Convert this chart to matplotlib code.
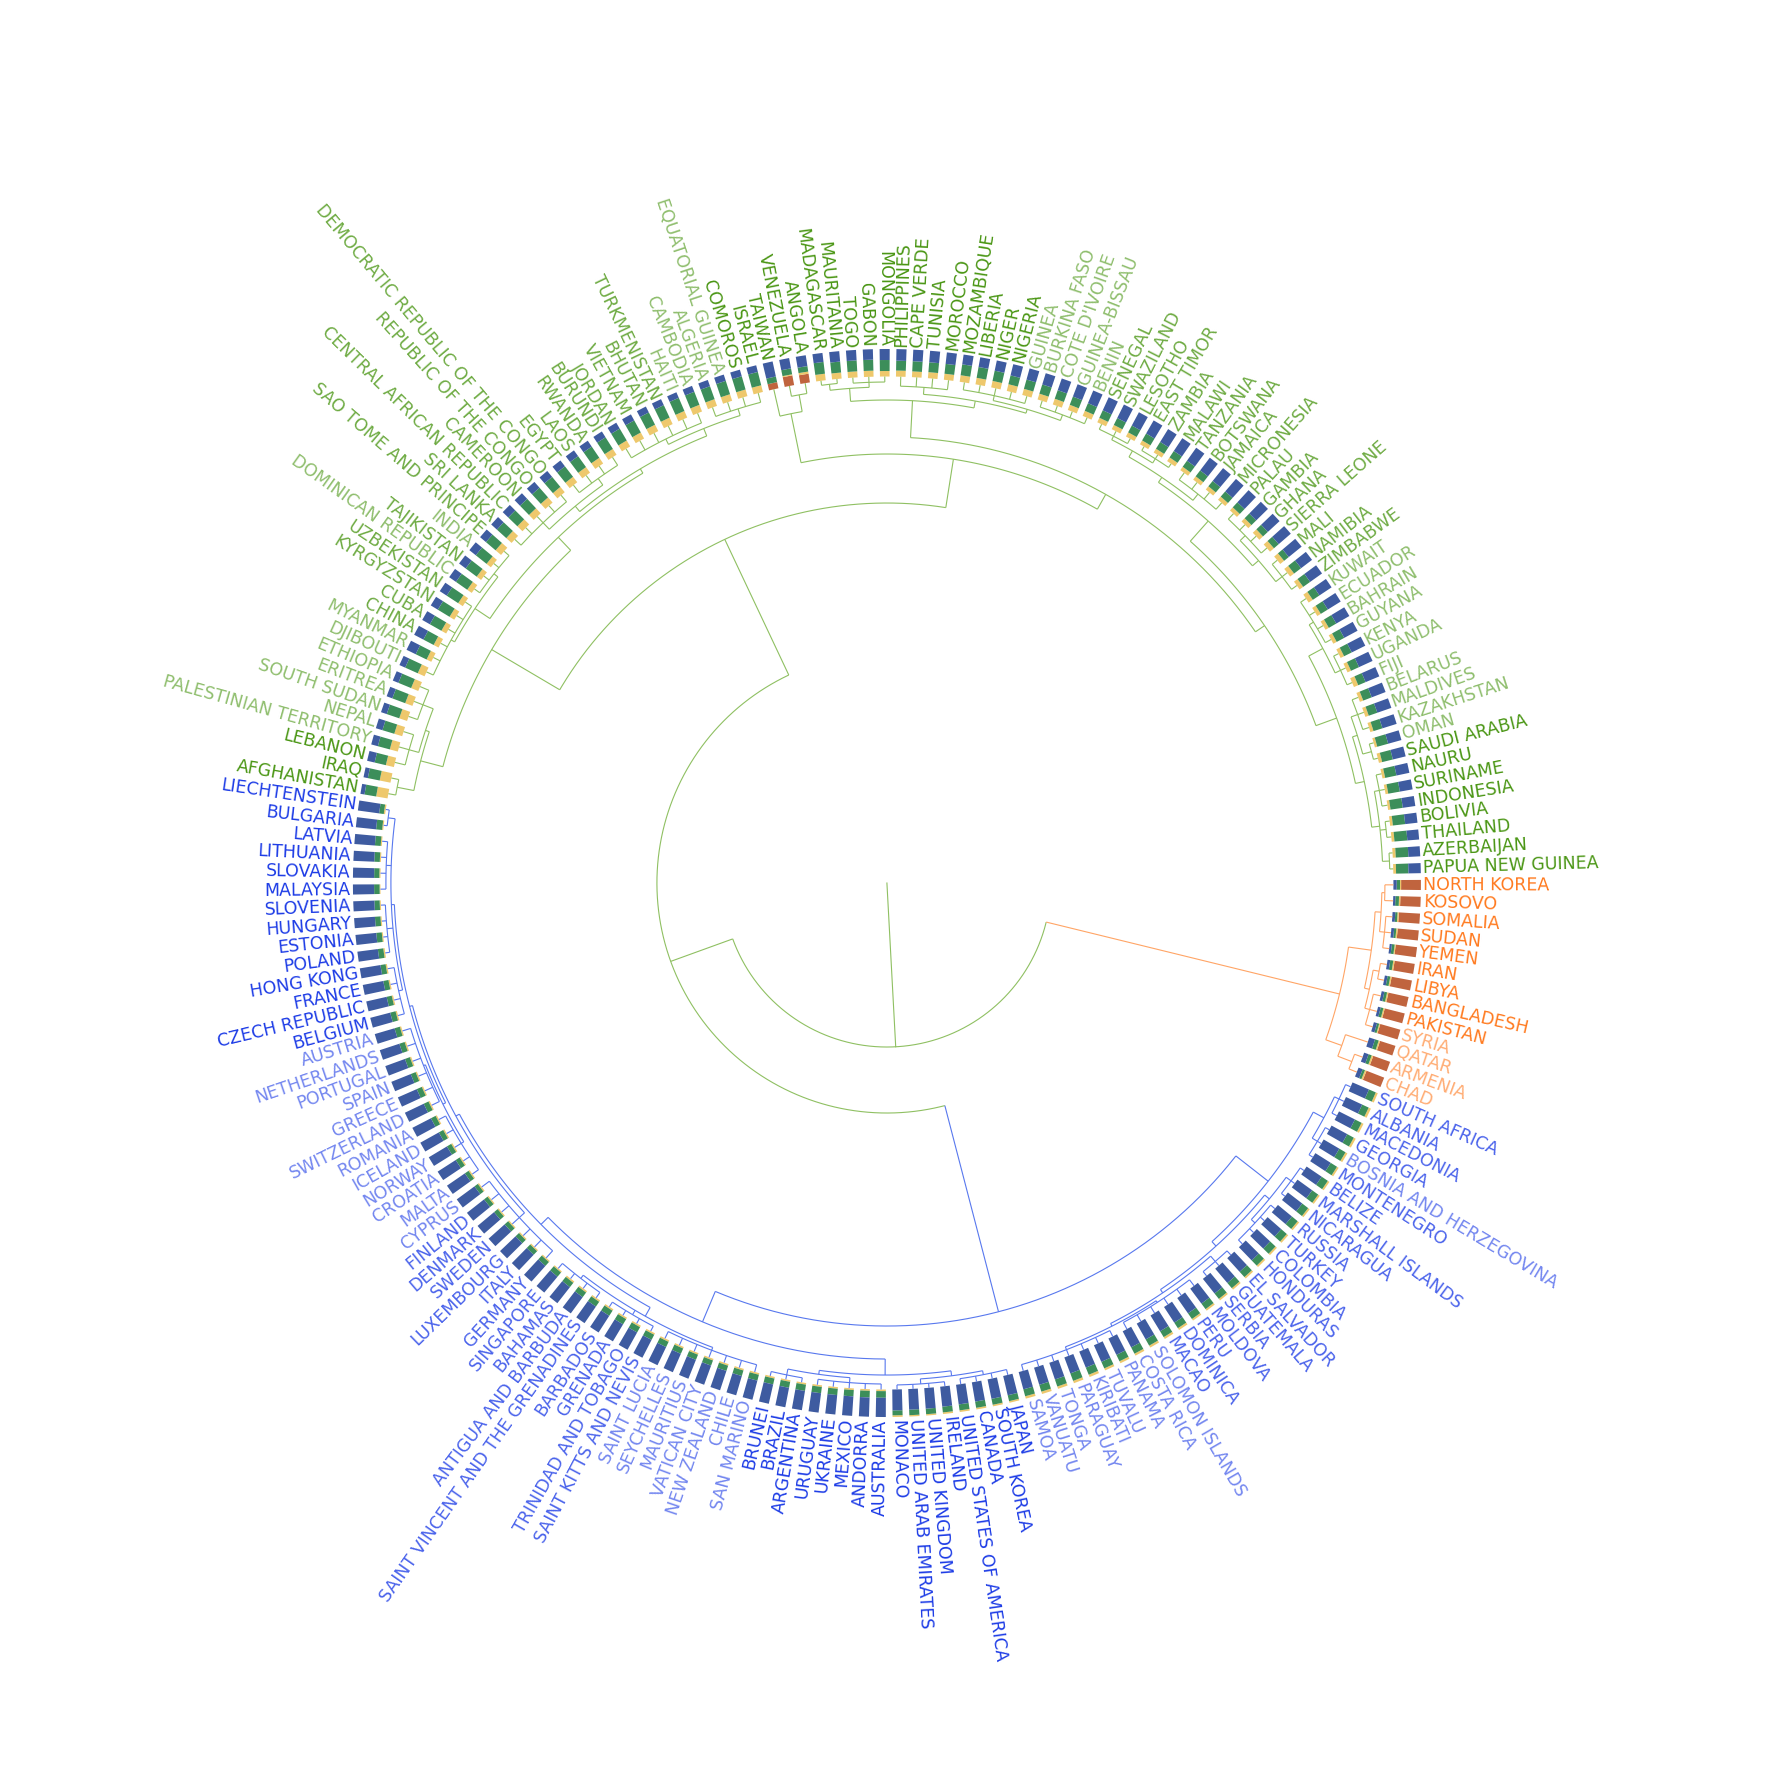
import numpy as np
import matplotlib
matplotlib.use("Agg")
import matplotlib.pyplot as plt

# ---- leaves, in circular order (counter-clockwise from 3 o'clock) ----
green_names = [
    "PAPUA NEW GUINEA", "AZERBAIJAN", "THAILAND", "BOLIVIA", "INDONESIA", "SURINAME", "NAURU", "SAUDI ARABIA", "OMAN", "KAZAKHSTAN",
    "MALDIVES", "BELARUS", "FIJI", "UGANDA", "KENYA", "GUYANA", "BAHRAIN", "ECUADOR", "KUWAIT", "ZIMBABWE",
    "NAMIBIA", "MALI", "SIERRA LEONE", "GHANA", "GAMBIA", "PALAU", "MICRONESIA", "JAMAICA", "BOTSWANA", "TANZANIA",
    "MALAWI", "ZAMBIA", "EAST TIMOR", "LESOTHO", "SWAZILAND", "SENEGAL", "BENIN", "GUINEA-BISSAU", "COTE D'IVOIRE", "BURKINA FASO",
    "GUINEA", "NIGERIA", "NIGER", "LIBERIA", "MOZAMBIQUE", "MOROCCO", "TUNISIA", "CAPE VERDE", "PHILIPPINES", "MONGOLIA",
    "GABON", "TOGO", "MAURITANIA", "MADAGASCAR", "ANGOLA", "VENEZUELA", "TAIWAN", "ISRAEL", "COMOROS", "EQUATORIAL GUINEA",
    "ALGERIA", "CAMBODIA", "HAITI", "TURKMENISTAN", "BHUTAN", "VIETNAM", "JORDAN", "BURUNDI", "RWANDA", "LAOS",
    "EGYPT", "DEMOCRATIC REPUBLIC OF THE CONGO", "REPUBLIC OF THE CONGO", "CAMEROON", "CENTRAL AFRICAN REPUBLIC", "SRI LANKA", "SAO TOME AND PRINCIPE", "INDIA", "TAJIKISTAN", "DOMINICAN REPUBLIC",
    "UZBEKISTAN", "KYRGYZSTAN", "CUBA", "CHINA", "MYANMAR", "DJIBOUTI", "ETHIOPIA", "ERITREA", "SOUTH SUDAN", "NEPAL",
    "PALESTINIAN TERRITORY", "LEBANON", "IRAQ", "AFGHANISTAN"]
blue_names = [
    "LIECHTENSTEIN", "BULGARIA", "LATVIA", "LITHUANIA", "SLOVAKIA", "MALAYSIA", "SLOVENIA", "HUNGARY", "ESTONIA", "POLAND",
    "HONG KONG", "FRANCE", "CZECH REPUBLIC", "BELGIUM", "AUSTRIA", "NETHERLANDS", "PORTUGAL", "SPAIN", "GREECE", "SWITZERLAND",
    "ROMANIA", "ICELAND", "NORWAY", "CROATIA", "MALTA", "CYPRUS", "FINLAND", "DENMARK", "SWEDEN", "LUXEMBOURG",
    "ITALY", "GERMANY", "SINGAPORE", "BAHAMAS", "ANTIGUA AND BARBUDA", "SAINT VINCENT AND THE GRENADINES", "BARBADOS", "GRENADA", "TRINIDAD AND TOBAGO", "SAINT KITTS AND NEVIS",
    "SAINT LUCIA", "SEYCHELLES", "MAURITIUS", "VATICAN CITY", "NEW ZEALAND", "CHILE", "SAN MARINO", "BRUNEI", "BRAZIL", "ARGENTINA",
    "URUGUAY", "UKRAINE", "MEXICO", "ANDORRA", "AUSTRALIA", "MONACO", "UNITED ARAB EMIRATES", "UNITED KINGDOM", "IRELAND", "UNITED STATES OF AMERICA",
    "CANADA", "SOUTH KOREA", "JAPAN", "SAMOA", "VANUATU", "TONGA", "PARAGUAY", "KIRIBATI", "TUVALU", "PANAMA",
    "COSTA RICA", "SOLOMON ISLANDS", "MACAO", "DOMINICA", "PERU", "MOLDOVA", "SERBIA", "GUATEMALA", "EL SALVADOR", "HONDURAS",
    "COLOMBIA", "TURKEY", "RUSSIA", "NICARAGUA", "MARSHALL ISLANDS", "BELIZE", "MONTENEGRO", "BOSNIA AND HERZEGOVINA", "GEORGIA", "MACEDONIA",
    "ALBANIA", "SOUTH AFRICA"]
orange_names = ["CHAD", "ARMENIA", "QATAR", "SYRIA", "PAKISTAN", "BANGLADESH", "LIBYA", "IRAN", "YEMEN", "SUDAN",
                "SOMALIA", "KOSOVO", "NORTH KOREA"]

# ---- stacked shares (%) : blue / green / yellow / brown ----
green_blue = [45, 43, 43, 45, 46, 47, 48, 48, 50, 54,
              54, 54, 54, 54, 55, 55, 55, 55, 53, 53,
              50, 60, 58, 58, 60, 60, 60, 60, 58, 58,
              56, 55, 55, 55, 55, 52, 50, 48, 45, 43,
              42, 42, 38, 36, 36, 42, 42, 42, 42, 40,
              38, 38, 38, 33, 40, 38, 56, 25, 25, 24,
              24, 23, 22, 24, 24, 25, 25, 25, 26, 26,
              27, 28, 28, 28, 28, 28, 28, 30, 30, 30,
              30, 30, 32, 38, 37, 23, 22, 22, 22, 25,
              25, 28, 16, 15]
green_green = [45, 46, 47, 45, 45, 43, 42, 40, 41, 34,
               33, 33, 29, 32, 31, 31, 31, 30, 29, 31,
               32, 22, 23, 24, 24, 25, 25, 25, 27, 27,
               28, 29, 29, 28, 28, 30, 30, 32, 33, 35,
               35, 33, 38, 40, 40, 36, 36, 37, 36, 40,
               40, 40, 40, 43, 20, 22, 21, 50, 50, 51,
               50, 51, 52, 50, 50, 50, 50, 50, 49, 49,
               48, 47, 47, 47, 46, 46, 46, 50, 50, 50,
               50, 50, 48, 42, 44, 50, 50, 50, 48, 45,
               45, 42, 44, 43]
green_yellow = [10, 11, 10, 10, 9, 10, 10, 12, 9, 12,
                13, 13, 17, 14, 14, 14, 14, 15, 18, 16,
                18, 18, 19, 18, 16, 15, 15, 15, 15, 15,
                16, 16, 16, 17, 17, 18, 20, 20, 22, 22,
                23, 25, 24, 24, 24, 22, 22, 21, 22, 20,
                22, 22, 22, 24, 8, 4, 0, 25, 25, 25,
                26, 26, 26, 26, 26, 25, 25, 25, 25, 25,
                25, 25, 25, 25, 26, 26, 26, 20, 20, 20,
                20, 20, 20, 20, 19, 27, 28, 28, 30, 30,
                30, 30, 40, 42]
green_brown = [0, 0, 0, 0, 0, 0, 0, 0, 0, 0,
               0, 0, 0, 0, 0, 0, 0, 0, 0, 0,
               0, 0, 0, 0, 0, 0, 0, 0, 0, 0,
               0, 0, 0, 0, 0, 0, 0, 0, 0, 0,
               0, 0, 0, 0, 0, 0, 0, 0, 0, 0,
               0, 0, 0, 0, 32, 36, 23, 0, 0, 0,
               0, 0, 0, 0, 0, 0, 0, 0, 0, 0,
               0, 0, 0, 0, 0, 0, 0, 0, 0, 0,
               0, 0, 0, 0, 0, 0, 0, 0, 0, 0,
               0, 0, 0, 0]
blue_blue = [78, 74, 75, 76, 77, 77, 77, 76, 76, 75,
             76, 76, 76, 75, 75, 75, 76, 76, 75, 76,
             76, 77, 77, 78, 79, 80, 79, 78, 78, 78,
             77, 76, 75, 74, 73, 73, 72, 72, 72, 73,
             73, 73, 74, 74, 74, 73, 72, 72, 72, 71,
             71, 71, 71, 70, 70, 76, 75, 75, 73, 72,
             71, 72, 72, 65, 65, 64, 62, 63, 66, 66,
             66, 66, 67, 68, 68, 68, 68, 68, 67, 67,
             66, 66, 66, 66, 66, 66, 66, 66, 65, 65,
             65, 65]
blue_green = [17, 22, 21, 20, 19, 20, 19, 20, 20, 20,
              19, 19, 19, 20, 20, 20, 19, 19, 20, 19,
              19, 18, 18, 17, 16, 15, 16, 17, 17, 17,
              18, 19, 20, 20, 21, 21, 22, 22, 22, 21,
              21, 21, 20, 20, 20, 21, 22, 22, 22, 23,
              23, 23, 23, 24, 24, 18, 20, 20, 21, 22,
              23, 22, 22, 26, 26, 27, 29, 28, 26, 26,
              26, 26, 25, 24, 25, 25, 25, 25, 26, 26,
              27, 27, 27, 27, 27, 27, 27, 26, 27, 27,
              26, 27]
blue_yellow = [5, 4, 4, 4, 4, 3, 4, 4, 4, 5,
               5, 5, 5, 5, 5, 5, 5, 5, 5, 5,
               5, 5, 5, 5, 5, 5, 5, 5, 5, 5,
               5, 5, 5, 6, 6, 6, 6, 6, 6, 6,
               6, 6, 6, 6, 6, 6, 6, 6, 6, 6,
               6, 6, 6, 6, 6, 6, 5, 5, 6, 6,
               6, 6, 6, 9, 9, 9, 9, 9, 8, 8,
               8, 8, 8, 8, 7, 7, 7, 7, 7, 7,
               7, 7, 7, 7, 7, 7, 7, 8, 8, 8,
               9, 8]
blue_brown = [0] * len(blue_names)
orange_blue = [16, 17, 22, 12, 10, 10, 10, 10, 8, 10, 10, 8, 12]
orange_green = [9, 12, 14, 8, 10, 10, 10, 11, 10, 8, 8, 13, 12]
orange_yellow = [6, 6, 5, 4, 5, 5, 5, 5, 4, 5, 5, 5, 4]
orange_brown = [69, 65, 59, 76, 75, 75, 75, 74, 78, 77, 77, 74, 72]

# ---- label emphasis: 2 strong, 1 medium, 0 faint ----
green_tone = [2, 2, 2, 2, 2, 2, 2, 2, 0, 0,
              0, 0, 0, 0, 0, 0, 0, 0, 0, 1,
              1, 1, 1, 1, 1, 1, 1, 1, 1, 1,
              1, 1, 1, 1, 1, 1, 0, 0, 0, 0,
              0, 2, 2, 2, 2, 2, 2, 2, 2, 2,
              2, 2, 2, 2, 2, 2, 2, 2, 2, 0,
              0, 0, 0, 1, 1, 1, 1, 1, 1, 1,
              1, 1, 1, 1, 1, 1, 1, 0, 1, 0,
              1, 1, 1, 1, 0, 0, 0, 0, 0, 0,
              0, 2, 2, 2]
blue_tone = [2, 2, 2, 2, 2, 2, 2, 2, 2, 2,
             2, 2, 2, 2, 0, 0, 0, 0, 0, 0,
             0, 0, 0, 0, 0, 0, 1, 1, 1, 1,
             1, 1, 1, 1, 1, 1, 1, 1, 1, 1,
             0, 0, 0, 0, 0, 0, 0, 2, 2, 2,
             2, 2, 2, 2, 2, 2, 2, 2, 2, 2,
             2, 2, 2, 0, 0, 0, 0, 0, 0, 0,
             0, 0, 1, 1, 1, 1, 1, 1, 1, 1,
             1, 1, 1, 1, 1, 1, 1, 0, 1, 1,
             1, 1]
orange_tone = [0, 0, 0, 0, 2, 2, 2, 2, 2, 2, 2, 2, 2]

# ---- dendrogram nodes: (first leaf, last leaf, node radius in px) ----
top_nodes = [("PAPUA NEW GUINEA", "NORTH KOREA", 164),
             ("PAPUA NEW GUINEA", "SOUTH AFRICA", 230)]
green_nodes = [
    ("PAPUA NEW GUINEA", "AFGHANISTAN", 380), ("PAPUA NEW GUINEA", "TAIWAN", 429),
    ("PAPUA NEW GUINEA", "MADAGASCAR", 446), ("PAPUA NEW GUINEA", "SENEGAL", 457),
    ("PAPUA NEW GUINEA", "KUWAIT", 479), ("PAPUA NEW GUINEA", "BELARUS", 488),
    ("PAPUA NEW GUINEA", "NAURU", 496), ("PAPUA NEW GUINEA", "AZERBAIJAN", 503),
    ("THAILAND", "BOLIVIA", 502), ("INDONESIA", "NAURU", 501),
    ("SAUDI ARABIA", "BELARUS", 493), ("SAUDI ARABIA", "OMAN", 502), ("KAZAKHSTAN", "BELARUS", 500),
    ("FIJI", "KUWAIT", 495), ("FIJI", "KENYA", 501), ("GUYANA", "KUWAIT", 500),
    ("ZIMBABWE", "SENEGAL", 484), ("ZIMBABWE", "PALAU", 492), ("ZIMBABWE", "MALI", 500),
    ("SIERRA LEONE", "PALAU", 499), ("MICRONESIA", "SENEGAL", 490), ("MICRONESIA", "TANZANIA", 498),
    ("MALAWI", "SENEGAL", 497), ("MALAWI", "EAST TIMOR", 502), ("LESOTHO", "SENEGAL", 501),
    ("BENIN", "MADAGASCAR", 483), ("BENIN", "PHILIPPINES", 490), ("BENIN", "MOZAMBIQUE", 494),
    ("BENIN", "BURKINA FASO", 500), ("GUINEA", "MOZAMBIQUE", 499), ("MOROCCO", "PHILIPPINES", 497),
    ("MONGOLIA", "MADAGASCAR", 496), ("MONGOLIA", "TOGO", 501), ("MAURITANIA", "MADAGASCAR", 502),
    ("ANGOLA", "TAIWAN", 479), ("ANGOLA", "VENEZUELA", 496),
    ("ISRAEL", "AFGHANISTAN", 459), ("ISRAEL", "DJIBOUTI", 477), ("ISRAEL", "SRI LANKA", 482),
    ("ISRAEL", "JORDAN", 490), ("ISRAEL", "ALGERIA", 497), ("CAMBODIA", "JORDAN", 496),
    ("BURUNDI", "SRI LANKA", 489), ("BURUNDI", "EGYPT", 497),
    ("DEMOCRATIC REPUBLIC OF THE CONGO", "SRI LANKA", 498),
    ("SAO TOME AND PRINCIPE", "DJIBOUTI", 495), ("SAO TOME AND PRINCIPE", "DOMINICAN REPUBLIC", 500),
    ("UZBEKISTAN", "DJIBOUTI", 499),
    ("ETHIOPIA", "AFGHANISTAN", 482), ("ETHIOPIA", "LEBANON", 486), ("ETHIOPIA", "SOUTH SUDAN", 497),
    ("NEPAL", "LEBANON", 496), ("IRAQ", "AFGHANISTAN", 499)]
blue_nodes = [
    ("LIECHTENSTEIN", "SOUTH AFRICA", 443), ("LIECHTENSTEIN", "JAPAN", 476),
    ("LIECHTENSTEIN", "SAN MARINO", 486), ("LIECHTENSTEIN", "GERMANY", 490),
    ("LIECHTENSTEIN", "MALTA", 493),
    ("LIECHTENSTEIN", "BELGIUM", 496), ("LIECHTENSTEIN", "BULGARIA", 503), ("LATVIA", "MALAYSIA", 501),
    ("SLOVENIA", "POLAND", 502), ("HONG KONG", "BELGIUM", 500),
    ("AUSTRIA", "MALTA", 496), ("AUSTRIA", "SWITZERLAND", 498), ("ROMANIA", "MALTA", 499),
    ("CYPRUS", "GERMANY", 497),
    ("SINGAPORE", "SAN MARINO", 496), ("SINGAPORE", "SAINT VINCENT AND THE GRENADINES", 500),
    ("BARBADOS", "SAINT KITTS AND NEVIS", 501), ("SAINT LUCIA", "SAN MARINO", 499),
    ("BRUNEI", "JAPAN", 492), ("BRUNEI", "AUSTRALIA", 496), ("BRUNEI", "ARGENTINA", 502),
    ("URUGUAY", "AUSTRALIA", 501), ("MONACO", "JAPAN", 497), ("MONACO", "IRELAND", 502),
    ("UNITED STATES OF AMERICA", "JAPAN", 501),
    ("SAMOA", "SOUTH AFRICA", 484), ("SAMOA", "BELIZE", 490), ("SAMOA", "EL SALVADOR", 494),
    ("SAMOA", "MOLDOVA", 497), ("SAMOA", "PANAMA", 500), ("COSTA RICA", "MOLDOVA", 499),
    ("SERBIA", "EL SALVADOR", 501), ("HONDURAS", "BELIZE", 496),
    ("HONDURAS", "RUSSIA", 501), ("NICARAGUA", "BELIZE", 502),
    ("MONTENEGRO", "SOUTH AFRICA", 496), ("MONTENEGRO", "GEORGIA", 502), ("MACEDONIA", "SOUTH AFRICA", 501)]
orange_nodes = [
    ("CHAD", "NORTH KOREA", 466), ("CHAD", "QATAR", 483), ("CHAD", "ARMENIA", 498),
    ("SYRIA", "NORTH KOREA", 489), ("SYRIA", "IRAN", 494), ("SYRIA", "BANGLADESH", 499),
    ("LIBYA", "IRAN", 500), ("YEMEN", "NORTH KOREA", 495), ("YEMEN", "SOMALIA", 500),
    ("KOSOVO", "NORTH KOREA", 498)]

# ---- styling ----
bar_colors = {"blue": "#3e5ba0", "green": "#3c8e5a", "yellow": "#eec86c", "brown": "#c0643e"}
line_colors = {"green": "#8fc062", "blue": "#5878ee", "orange": "#ffa566"}
text_colors = {"green": "#4a9614", "blue": "#1d3ce6", "orange": "#ff7a1f"}
tone_alpha = {2: 1.0, 1: 0.8, 0: 0.62}

R_LEAF, R_BAR_OUT, R_LABEL = 506.5, 534.0, 536.5

names = green_names + blue_names + orange_names
groups = ["green"] * len(green_names) + ["blue"] * len(blue_names) + ["orange"] * len(orange_names)
tones = green_tone + blue_tone + orange_tone
shares = {
    "blue": np.array(green_blue + blue_blue + orange_blue, float),
    "green": np.array(green_green + blue_green + orange_green, float),
    "yellow": np.array(green_yellow + blue_yellow + orange_yellow, float),
    "brown": np.array(green_brown + blue_brown + orange_brown, float),
}
N = len(names)
step = 360.0 / N
theta_deg = 1.6 + step * np.arange(N)
idx = {nm: i for i, nm in enumerate(names)}
intervals = [(idx[a], idx[b], r) for a, b, r in top_nodes + green_nodes + blue_nodes + orange_nodes]


def group_of(lo, hi):
    g = set(groups[lo:hi + 1])
    return g.pop() if len(g) == 1 else "green"


def build(lo, hi, r):
    kids = []
    i = lo
    while i <= hi:
        best = None
        for a, b, rr in intervals:
            if a == i and b <= hi and (a, b) != (lo, hi):
                if best is None or b > best[1]:
                    best = (a, b, rr)
        if best:
            kids.append(build(*best))
            i = best[1] + 1
        else:
            kids.append({"lo": i, "hi": i, "r": R_LEAF, "ang": theta_deg[i], "kids": []})
            i += 1
    ang = (kids[0]["ang"] + kids[-1]["ang"]) / 2
    return {"lo": lo, "hi": hi, "r": r, "ang": ang, "kids": kids}


fig = plt.figure(figsize=(17.71, 17.71), dpi=100)
ax = fig.add_axes([0.0008, 0.0014, 1, 1], projection="polar")
ax.set_ylim(0, 885.5)
ax.set_axis_off()
LW = 0.8


def draw(node):
    if not node["kids"]:
        return
    col = line_colors[group_of(node["lo"], node["hi"])]
    angs = [k["ang"] for k in node["kids"]]
    a0, a1 = min(angs), max(angs)
    t = np.radians(np.linspace(a0, a1, max(2, int((a1 - a0) * 3) + 2)))
    ax.plot(t, np.full_like(t, node["r"]), color=col, lw=LW, solid_capstyle="butt")
    for k in node["kids"]:
        kc = line_colors[group_of(k["lo"], k["hi"])]
        ax.plot(np.radians([k["ang"], k["ang"]]), [node["r"], k["r"]], color=kc, lw=LW,
                solid_capstyle="butt")
        draw(k)


root = build(0, N - 1, intervals[0][2])
ax.plot(np.radians([root["ang"], root["ang"]]), [0, root["r"]], color=line_colors["green"], lw=LW)
draw(root)

# ---- stacked bars ----
total = sum(shares.values())
bar_len = R_BAR_OUT - R_LEAF
normal_order = ["brown", "yellow", "green", "blue"]
bottoms = {k: np.zeros(N) for k in shares}
for i in range(N):
    order = normal_order[::-1] if theta_deg[i] > 270 else normal_order
    b = R_LEAF
    for k in order:
        bottoms[k][i] = b
        b += shares[k][i] / total[i] * bar_len
for k in normal_order:
    h = shares[k] / total * bar_len
    m = h > 0
    ax.bar(np.radians(theta_deg[m]), h[m], width=np.radians(step * 0.6), bottom=bottoms[k][m],
           color=bar_colors[k], edgecolor="none", align="center", linewidth=0)

# ---- labels ----
for i in range(N):
    th = theta_deg[i]
    if 90 < th < 270:
        rot, ha = th - 180, "right"
    else:
        rot, ha = (th - 360 if th > 270 else th), "left"
    ax.text(np.radians(th), R_LABEL, names[i], rotation=rot, rotation_mode="anchor",
            ha=ha, va="center", fontsize=12.5, family="DejaVu Sans",
            color=text_colors[groups[i]], alpha=tone_alpha[tones[i]])

fig.savefig("out.png", dpi=100, facecolor="white")
